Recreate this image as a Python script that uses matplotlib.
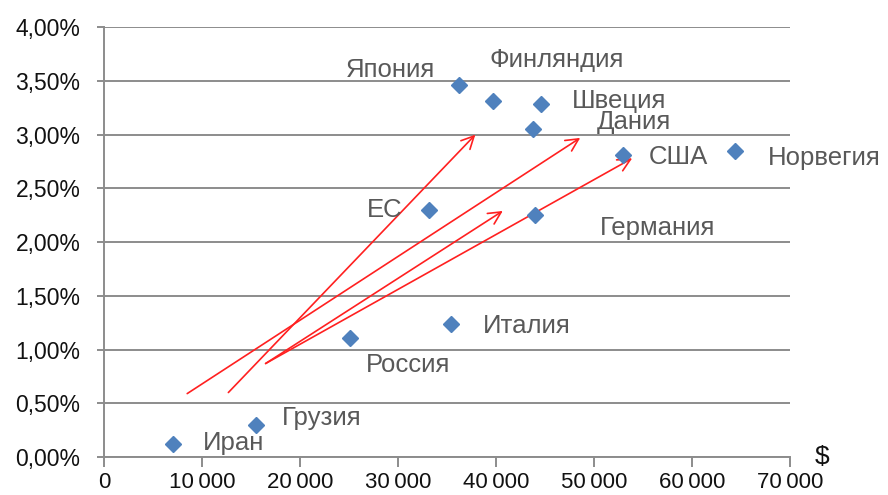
import numpy as np
import matplotlib
matplotlib.use('Agg')
import matplotlib.pyplot as plt
from matplotlib.ticker import FuncFormatter

plt.rcParams['font.family'] = ['Liberation Sans', 'DejaVu Sans']

# data
countries = ['Иран', 'Грузия', 'Россия', 'Италия', 'ЕС', 'Япония',
             'Финляндия', 'Швеция', 'Дания', 'США', 'Норвегия', 'Германия']
gdp = [7100, 15500, 25100, 35400, 33200, 36200,
       39700, 44600, 43800, 53000, 64400, 44000]
rd_share = [0.12, 0.30, 1.11, 1.24, 2.30, 3.46,
            3.31, 3.29, 3.05, 2.81, 2.85, 2.25]

# red arrows (start -> end, in data units)
arrow_x0 = [8500, 12700, 16500, 16500]
arrow_y0 = [0.59, 0.60, 0.87, 0.87]
arrow_x1 = [48600, 37900, 40700, 53900]
arrow_y1 = [2.97, 3.00, 2.29, 2.78]

# label offsets in pixels and alignment
label_dx = [29, 26, 16, 32, -27, -24, -3, 31, 64, 25, 33, 65]
label_dy = [1, 7, -27, -2, 0, 15, 41, 3, 7, -2, -7, -13]
label_ha = ['left', 'left', 'left', 'left', 'right', 'right',
            'left', 'left', 'left', 'left', 'left', 'left']

fig = plt.figure(figsize=(8.88, 4.95), dpi=100)
ax = fig.add_axes([0.117, 0.0768, 0.7726, 0.8682])

ax.set_xlim(0, 70000)
ax.set_ylim(0, 4.0)
ax.set_xticks(np.arange(0, 70001, 10000))
ax.set_yticks(np.arange(0, 4.01, 0.5))

grid_col = '#8c8c8c'
ax.yaxis.grid(True, color=grid_col, lw=1.4)
ax.set_axisbelow(True)
for s in ['top', 'right']:
    ax.spines[s].set_visible(False)
for s in ['left', 'bottom']:
    ax.spines[s].set_color(grid_col)
    ax.spines[s].set_linewidth(1.4)

ax.xaxis.set_major_formatter(FuncFormatter(
    lambda v, p: '0' if v == 0 else '{:,.0f}'.format(v).replace(',', '\u2009')))
ax.yaxis.set_major_formatter(FuncFormatter(
    lambda v, p: '{:.2f}%'.format(v).replace('.', ',')))
ax.tick_params(axis='x', direction='out', length=7, width=1.4, color=grid_col,
               labelsize=16, labelcolor='#111111', pad=3.5)
ax.tick_params(axis='y', direction='out', length=5, width=1.4, color=grid_col,
               labelsize=16.5, labelcolor='#111111', pad=12)

for i in range(len(arrow_x0)):
    ax.annotate('', xy=(arrow_x1[i], arrow_y1[i]), xytext=(arrow_x0[i], arrow_y0[i]),
                arrowprops=dict(arrowstyle='->,head_length=0.6,head_width=0.3',
                                color='#ff2020', lw=1.2, mutation_scale=15,
                                shrinkA=0, shrinkB=0), zorder=3)

ax.plot(gdp, rd_share, 'D', color='#4f81bd', markersize=8.5, zorder=4,
        clip_on=False)

for i in range(len(countries)):
    ax.annotate(countries[i], (gdp[i], rd_share[i]),
                xytext=(label_dx[i], label_dy[i]), textcoords='offset pixels',
                ha=label_ha[i], va='center', fontsize=18.5, color='#595959')

ax.text(1.047, 0.0, '$', transform=ax.transAxes, fontsize=19,
        color='#111111', ha='center', va='center')

fig.savefig('out.png', dpi=100)
